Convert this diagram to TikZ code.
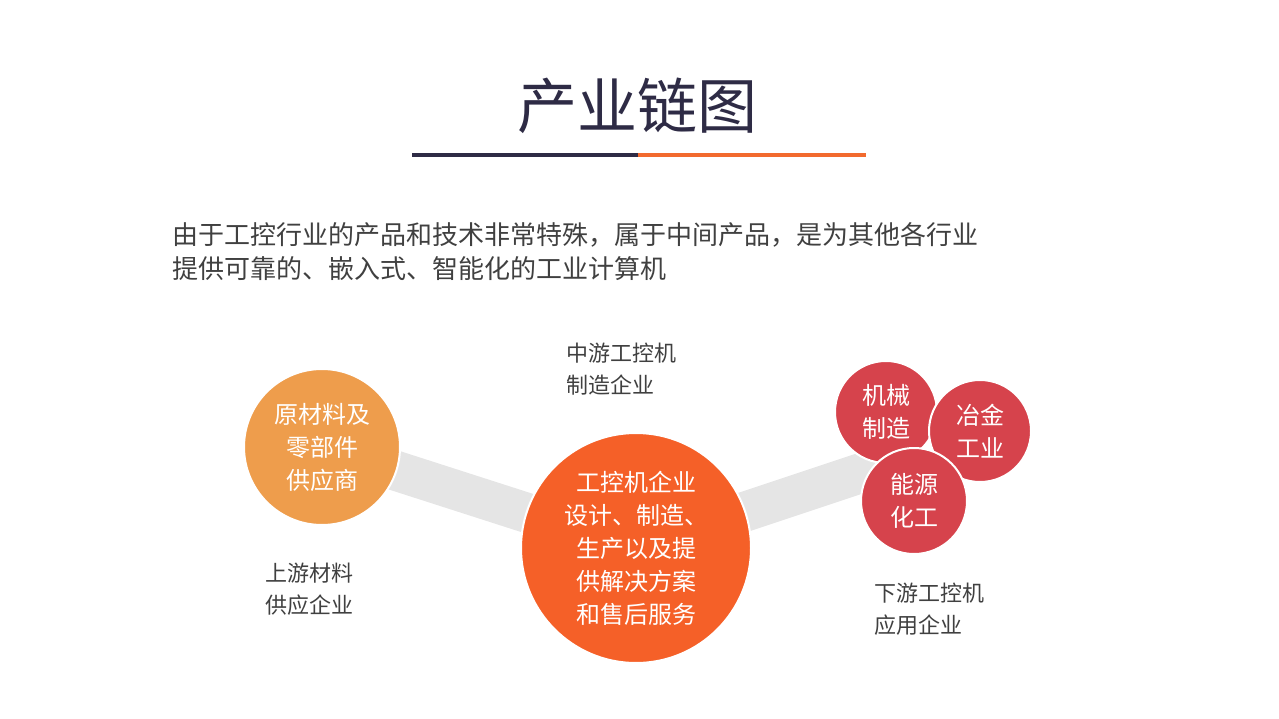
\documentclass[tikz,border=0pt]{standalone}
\usepackage{fontspec}
\setmainfont{Noto Sans CJK SC}
\begin{document}
\begin{tikzpicture}[x=1pt,y=-1pt,
  lbl/.style={anchor=north west,align=left,font=\fontsize{22}{32}\selectfont,text=black!75,inner sep=0},
  circ/.style={circle,draw=white,line width=2pt,text=white,align=center,font=\fontsize{24}{33}\selectfont,inner sep=0}]
\definecolor{navy}{HTML}{2E2B45}
\definecolor{org}{HTML}{F26A2E}
\useasboundingbox (0,0) rectangle (1279,719);
\node[font=\fontsize{60}{60}\selectfont,text=navy] (title) at (637,106) {产业链图};
\draw[navy,line width=4pt] (412,155) -- (638,155);
\draw[org,line width=4pt] (638,155) -- (866,155);
\node[anchor=north west,align=left,inner sep=0,font=\fontsize{26}{34}\selectfont,text=black!75] (para) at (172,222) {由于工控行业的产品和技术非常特殊，属于中间产品，是为其他各行业\\提供可靠的、嵌入式、智能化的工业计算机};
\coordinate (b1) at (322,447);
\coordinate (b2) at (636,548);
\coordinate (b3) at (885,465);
\draw[black!10,line width=40pt] (b1) -- (b2) -- (b3);
\node[circ,fill=orange!75!red!90!white,minimum size=156pt,fill={rgb,255:red,238;green,157;blue,76}] (c1) at (322,447) {原材料及\\零部件\\供应商};
\node[circ,minimum size=230pt,fill={rgb,255:red,245;green,96;blue,40}] (c2) at (636,548) {工控机企业\\设计、制造、\\生产以及提\\供解决方案\\和售后服务};
\node[circ,minimum size=102pt,fill={rgb,255:red,214;green,67;blue,76}] (r1) at (886,412) {机械\\制造};
\node[circ,minimum size=102pt,fill={rgb,255:red,214;green,67;blue,76}] (r2) at (980,431) {冶金\\工业};
\node[circ,minimum size=106pt,fill={rgb,255:red,214;green,67;blue,76}] (r3) at (914,501) {能源\\化工};
\node[lbl] (l1) at (566,343) {中游工控机\\制造企业};
\node[lbl] (l2) at (265,563) {上游材料\\供应企业};
\node[lbl] (l3) at (874,583) {下游工控机\\应用企业};
\end{tikzpicture}
\end{document}
